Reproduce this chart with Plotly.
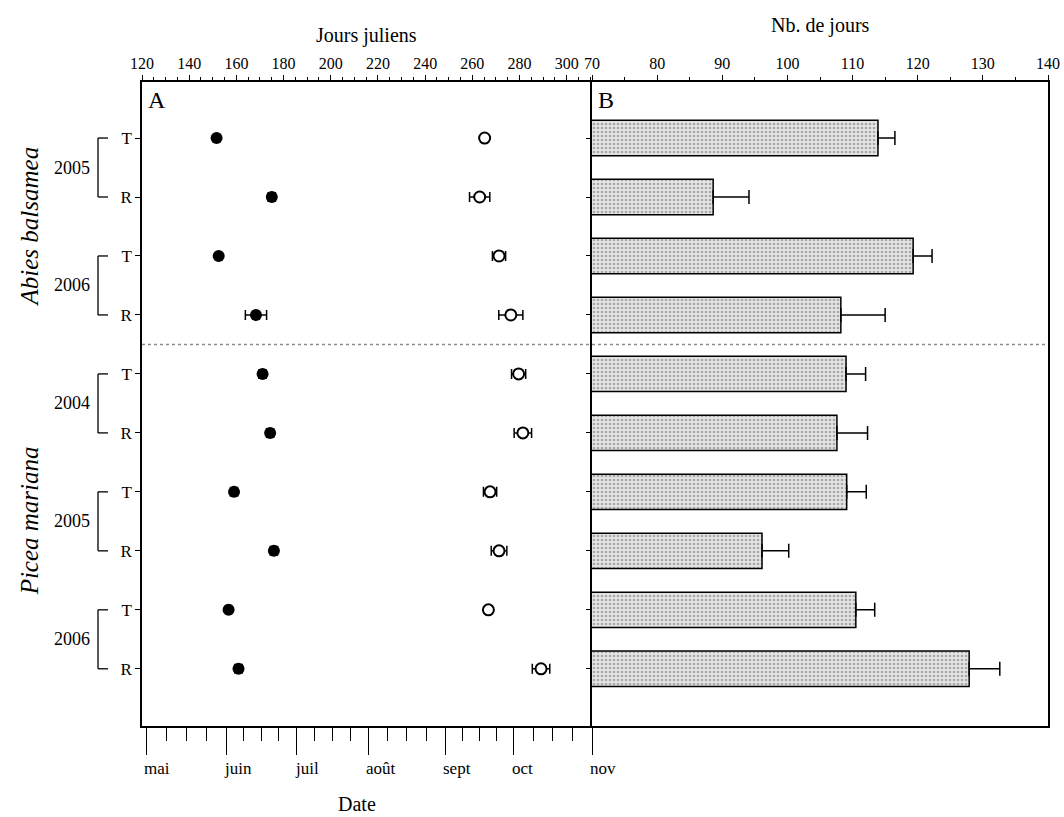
import numpy as np
import plotly.graph_objects as go

# ---------------- data ----------------
row_labels = ["T", "R", "T", "R", "T", "R", "T", "R", "T", "R"]
rows = list(range(10))
years = ["2005", "2006", "2004", "2005", "2006"]
species = ["Abies balsamea", "Picea mariana"]

# Panel A : julian days (start = filled, end = open)
start_day = [151.6, 175.0, 152.5, 168.3, 171.1, 174.3, 159.0, 175.9, 156.7, 160.9]
start_err = [0.5, 1.5, 0.5, 4.5, 1.5, 1.5, 1.5, 1.5, 1.0, 1.5]
end_day = [265.2, 263.1, 271.3, 276.3, 279.6, 281.4, 267.5, 271.3, 266.8, 289.1]
end_err = [1.0, 4.3, 2.8, 5.1, 3.0, 3.7, 2.8, 3.3, 1.0, 3.7]

# Panel B : number of days
n_days = [113.9, 88.6, 119.3, 108.2, 109.0, 107.6, 109.1, 96.1, 110.5, 127.9]
n_err = [2.6, 5.5, 2.9, 6.8, 3.0, 4.7, 3.0, 4.1, 2.9, 4.7]

# axis ticks
julian_ticks = [120, 140, 160, 180, 200, 220, 240, 260, 280, 300]
nb_ticks = [70, 80, 90, 100, 110, 120, 130, 140]
month_names = ["mai", "juin", "juil", "août", "sept", "oct", "nov"]
month_pos = [121.7, 155.7, 185.5, 215.9, 248.6, 277.6, 310.7]

# ---------------- layout geometry ----------------
W, H = 1064, 817
ML, MR, MT, MB = 142, 16, 82, 91
PW = W - ML - MR
PH = H - MT - MB
dA = (592 - ML) / PW
xA_range = [120, 310.7]
y_range = [9.97, -0.95]

FONT = "Liberation Serif, Times New Roman, serif"


def px2paper_x(px):
    return (px - ML) / PW


def px2paper_y(py):
    return (H - MB - py) / PH


fig = go.Figure()

# Panel A: start (filled)
fig.add_trace(go.Scatter(
    x=start_day, y=rows, mode="markers",
    marker=dict(symbol="circle", size=12, color="black"),
    error_x=dict(type="data", array=start_err, color="black", thickness=1.5, width=5),
    xaxis="x", yaxis="y", showlegend=False))
# Panel A: end (open)
fig.add_trace(go.Scatter(
    x=end_day, y=rows, mode="markers",
    marker=dict(symbol="circle", size=11, color="white", line=dict(color="black", width=2)),
    error_x=dict(type="data", array=end_err, color="black", thickness=1.5, width=5),
    xaxis="x", yaxis="y", showlegend=False))
# invisible trace so that the julian-day top axis is drawn
fig.add_trace(go.Scatter(
    x=[julian_ticks[0]], y=[rows[0]], mode="markers", marker=dict(opacity=0),
    hoverinfo="skip", xaxis="x3", yaxis="y", showlegend=False))

# Panel B bars
fig.add_trace(go.Bar(
    x=n_days, y=rows, orientation="h", width=0.6,
    marker=dict(color="#e2e2e2", line=dict(color="black", width=1.5),
                pattern=dict(shape=".", fgcolor="#6a6a6a", bgcolor="#e4e4e4", size=4, solidity=0.35)),
    error_x=dict(type="data", symmetric=False, array=n_err, arrayminus=[0] * len(n_err),
                 color="black", thickness=1.5, width=7),
    xaxis="x2", yaxis="y2", showlegend=False))

# minor ticks for month axis (quarters)
month_minor = []
for a, b in zip(month_pos[:-1], month_pos[1:]):
    for k in (1, 2, 3):
        month_minor.append(a + (b - a) * k / 4)

tick_font = dict(family=FONT, size=16, color="black")

fig.update_layout(
    width=W, height=H,
    margin=dict(l=ML, r=MR, t=MT, b=MB, autoexpand=False),
    paper_bgcolor="white", plot_bgcolor="white",
    font=dict(family=FONT, color="black"),
    bargap=0.4,
    xaxis=dict(domain=[0, dA], range=xA_range, anchor="y", side="bottom", automargin=False,
               showgrid=False, zeroline=False, showline=True, linecolor="black", linewidth=1.5,
               tickmode="array", tickvals=month_pos, ticktext=[""] * len(month_pos),
               ticks="outside", ticklen=27, tickwidth=1.3, tickcolor="black",
               minor=dict(tickmode="array", tickvals=month_minor, ticks="outside",
                          ticklen=13, tickwidth=1.3, tickcolor="black")),
    xaxis3=dict(overlaying="x", range=xA_range, anchor="y", side="top", automargin=False,
                showgrid=False, zeroline=False, showline=True, linecolor="black", linewidth=1.5,
                tickmode="array", tickvals=julian_ticks, ticks="outside", ticklen=5,
                tickwidth=1.3, tickcolor="black", tickfont=tick_font,
                minor=dict(dtick=5, tick0=120, ticks="outside", ticklen=3, tickcolor="black")),
    xaxis2=dict(domain=[dA, 1], range=[70, 140], anchor="y2", side="top", automargin=False,
                showgrid=False, zeroline=False, showline=True, mirror=True,
                linecolor="black", linewidth=1.5,
                tickmode="array", tickvals=nb_ticks, ticks="outside", ticklen=5,
                tickwidth=1.3, tickcolor="black", tickfont=tick_font,
                minor=dict(dtick=5, tick0=70, ticks="outside", ticklen=3, tickcolor="black")),
    yaxis=dict(domain=[0, 1], range=y_range, anchor="x", automargin=False,
               showgrid=False, zeroline=False, showline=True, linecolor="black", linewidth=1.5,
               tickmode="array", tickvals=rows, ticktext=row_labels,
               ticks="outside", ticklen=5, tickcolor="black", tickfont=dict(family=FONT, size=17)),
    yaxis2=dict(domain=[0, 1], range=y_range, anchor="x2", automargin=False,
                showgrid=False, zeroline=False, showline=True, mirror=True,
                linecolor="black", linewidth=1.5,
                tickmode="array", tickvals=rows, showticklabels=False,
                ticks="outside", ticklen=4, tickcolor="black"),
)

shapes = []
annotations = []

# separator between species
shapes.append(dict(type="line", xref="paper", yref="y", x0=0, x1=1, y0=3.5, y1=3.5,
                   line=dict(color="#8a8a8a", width=1.5, dash="dot")))

# year brackets
bx0, bx1 = px2paper_x(98), px2paper_x(108)
for i, yr in enumerate(years):
    t, r = 2 * i, 2 * i + 1
    shapes.append(dict(type="line", xref="paper", yref="y", x0=bx0, x1=bx0, y0=t, y1=r,
                       line=dict(color="black", width=1.3)))
    for yy in (t, r):
        shapes.append(dict(type="line", xref="paper", yref="y", x0=bx0, x1=bx1, y0=yy, y1=yy,
                           line=dict(color="black", width=1.3)))
    annotations.append(dict(text=yr, xref="paper", yref="y", x=px2paper_x(92), y=t + 0.5,
                            xanchor="right", yanchor="middle", showarrow=False,
                            font=dict(family=FONT, size=18)))

# species labels
for name, yc in zip(species, [1.5, 6.5]):
    annotations.append(dict(text="<i>" + name + "</i>", xref="paper", yref="y",
                            x=px2paper_x(29), y=yc, textangle=-90, showarrow=False,
                            xanchor="center", yanchor="middle",
                            font=dict(family=FONT, size=25)))

# month labels (left-aligned at their ticks)
for m, p in zip(month_names, month_pos):
    annotations.append(dict(text=m, xref="x", yref="paper", x=p, y=px2paper_y(768),
                            xanchor="left", yanchor="middle", xshift=-4, showarrow=False,
                            font=dict(family=FONT, size=17)))

# axis titles
annotations.append(dict(text="Jours juliens", xref="paper", yref="paper", x=px2paper_x(366),
                        y=px2paper_y(35), xanchor="center", yanchor="middle", showarrow=False,
                        font=dict(family=FONT, size=20)))
annotations.append(dict(text="Nb. de jours", xref="paper", yref="paper", x=px2paper_x(820),
                        y=px2paper_y(25), xanchor="center", yanchor="middle", showarrow=False,
                        font=dict(family=FONT, size=20)))
annotations.append(dict(text="Date", xref="paper", yref="paper", x=px2paper_x(357),
                        y=px2paper_y(804), xanchor="center", yanchor="middle", showarrow=False,
                        font=dict(family=FONT, size=20)))

# panel letters
annotations.append(dict(text="A", xref="paper", yref="paper", x=px2paper_x(146), y=px2paper_y(100),
                        xanchor="left", yanchor="middle", showarrow=False,
                        font=dict(family=FONT, size=24)))
annotations.append(dict(text="B", xref="paper", yref="paper", x=px2paper_x(596), y=px2paper_y(100),
                        xanchor="left", yanchor="middle", showarrow=False,
                        font=dict(family=FONT, size=24)))

fig.update_layout(shapes=shapes, annotations=annotations)

fig.write_html("out.html", config={"displayModeBar": False},
               post_script="document.body.style.margin='0';document.body.style.overflow='hidden';")
